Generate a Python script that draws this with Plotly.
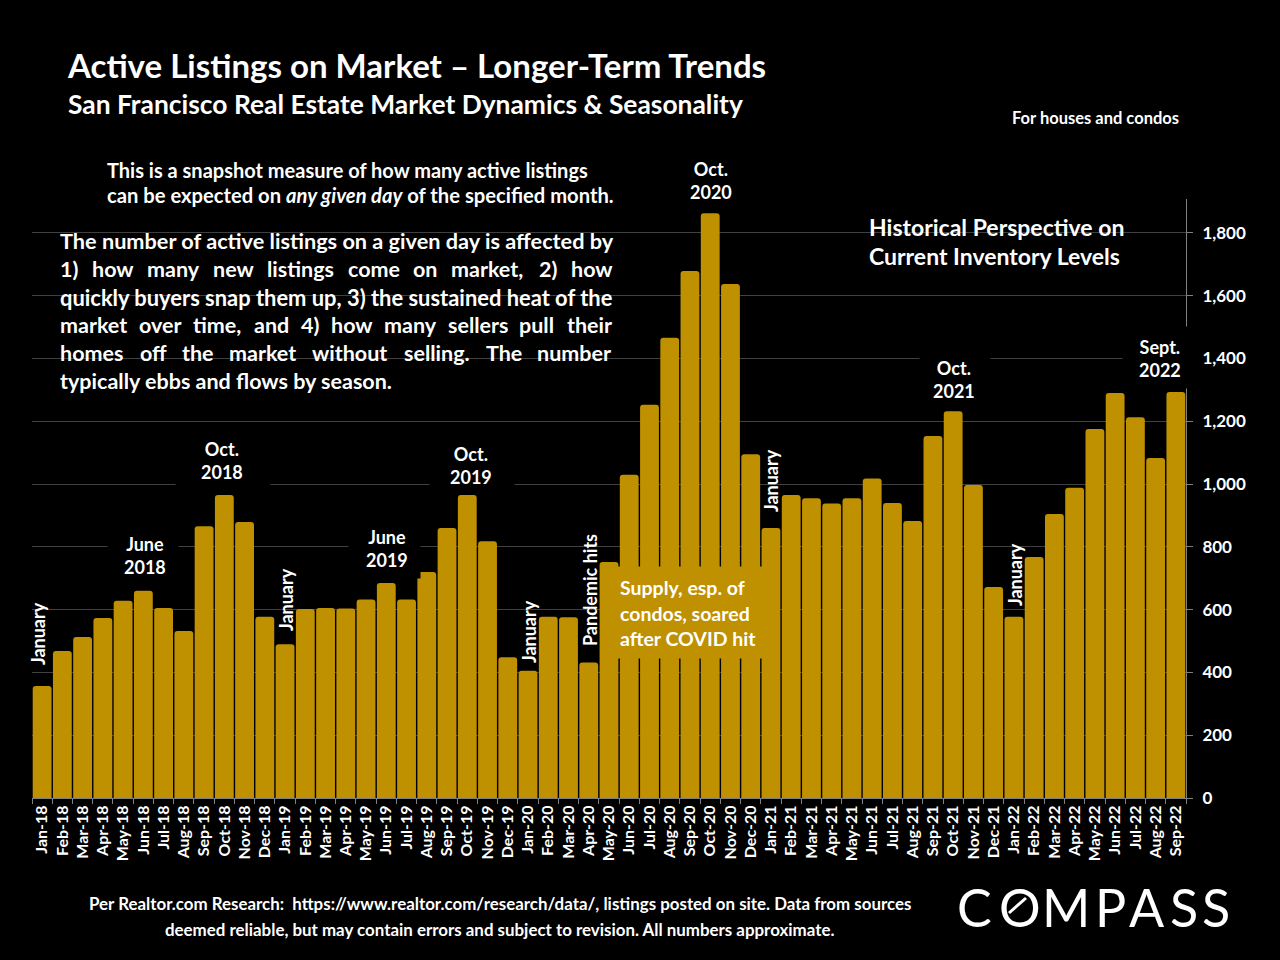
import plotly.graph_objects as go

months = ['Jan','Feb','Mar','Apr','May','Jun','Jul','Aug','Sep','Oct','Nov','Dec']
labels = [f'{m}-{y}' for y in (18, 19, 20, 21) for m in months] + [f'{m}-22' for m in months[:9]]

listings = [357, 468, 513, 573, 628, 660, 605, 532, 866, 965, 879, 577,
            490, 602, 605, 604, 632, 685, 632, 720, 860, 965, 818, 448,
            405, 577, 576, 432, 752, 1030, 1253, 1466, 1679, 1863, 1637, 1095,
            860, 965, 955, 938, 955, 1018, 940, 882, 1153, 1232, 997, 672,
            577, 768, 905, 988, 1175, 1290, 1213, 1083, 1293]

y_ticks = [0, 200, 400, 600, 800, 1000, 1200, 1400, 1600, 1800]

# justified paragraph: word and left edge, one list per line
para = [
    (241, 21.7, ['The number of active listings on a given day is affected by'], [60]),
    (269, 21.5, ['1)','how','many','new','listings','come','on','market,','2)','how'],
     [60, 92, 147, 213, 267, 348, 413, 451, 539, 571]),
    (297, 21.9, ['quickly buyers snap them up, 3) the sustained heat of the'], [60]),
    (325, 21.5, ['market','over','time,','and','4)','how','many','sellers','pull','their'],
     [60, 139, 193, 254, 301, 331, 384, 448, 519, 567]),
    (353, 21.5, ['homes','off','the','market','without','selling.','The','number'],
     [60, 140, 182, 229, 312, 404, 486, 537]),
    (381, 21.5, ['typically ebbs and flows by season.'], [60]),
]

GOLD = '#BF9000'
GRID = '#404040'
FONT = 'Lato'

# plot area in page pixels
L, R, T, B = 32, 1186, 199, 798
W, H = 1280, 960


def px(x, y):
    return (x - L) / (R - L), (B - y) / (B - T)


def text(s, x, y, size=18, xanchor='left', align='left', angle=0, weight=700, **kw):
    xp, yp = px(x, y)
    fig.add_annotation(text=s, x=xp, y=yp, xref='paper', yref='paper', showarrow=False,
                       xanchor=xanchor, yanchor='middle', align=align, textangle=angle,
                       borderpad=0, font=dict(family=FONT, size=size, color='white', weight=weight), **kw)


def box(s, x0, x1, y0, y1, cx, cy):
    # label with a black box behind it, hides gridlines and bar corners
    xp, yp = px((x0 + x1) / 2, (y0 + y1) / 2)
    fig.add_annotation(text=' ', x=xp, y=yp, xref='paper', yref='paper', showarrow=False,
                       width=x1 - x0, height=y1 - y0, bgcolor='black', borderpad=0,
                       xanchor='center', yanchor='middle')
    text(s, cx, cy, xanchor='center', align='center')


fig = go.Figure(go.Bar(x=labels, y=listings, marker=dict(color=GOLD, cornerradius=3, line_width=0), width=0.93))

fig.update_layout(
    width=W, height=H, paper_bgcolor='black', plot_bgcolor='black', showlegend=False,
    margin=dict(l=L, r=W - R, t=T, b=H - B),
    font=dict(family=FONT, color='white'),
    xaxis=dict(type='category', tickson='boundaries', ticks='outside', ticklen=5, tickcolor='#808080',
               showline=True, linecolor='#808080', showgrid=False, tickangle=-90,
               tickfont=dict(size=16, color='white', weight=700), dtick=1),
    yaxis=dict(side='right', range=[0, 1908], tickvals=y_ticks, tickformat=',', ticks='outside', ticklen=6,
               ticklabelstandoff=6, tickcolor='#808080', showline=True, linecolor='#808080', gridcolor=GRID,
               zeroline=False, tickfont=dict(size=17, color='white', weight=700)),
)

# masks over the gridlines behind the text blocks
for x0, x1, y0, y1 in [(48, 612, 225, 395), (856, 1143, 205, 275)]:
    a0, b0 = px(x0, y0)
    a1, b1 = px(x1, y1)
    fig.add_shape(type='rect', xref='paper', yref='paper', x0=a0, x1=a1, y0=b0, y1=b1,
                  fillcolor='black', line_width=0, layer='between')

text('Active Listings on Market – Longer-Term Trends', 66, 65, size=33)
text('San Francisco Real Estate Market Dynamics &amp; Seasonality', 67, 104, size=26.4)
text('For houses and condos', 1011, 118, size=16.5)

text('This is a snapshot measure of how many active listings', 106, 170, size=20)
text('can be expected on <i>any given day</i> of the specified month.', 106, 195, size=20.2)

for y, size, words, xs in para:
    for w, x in zip(words, xs):
        text(w, x - 1.5, y, size=size)

text('Historical Perspective on', 868, 227, size=23)
text('Current Inventory Levels', 868, 256, size=23)

box('June<br>2018', 108, 178, 530, 580, 145, 555)
box('Oct.<br>2018', 176, 270, 435, 487, 222, 460)
box('June<br>2019', 349, 420, 525, 578, 387, 548)
box('Oct.<br>2019', 430, 514, 440, 487, 471, 465)
box('Oct.<br>2021', 920, 990, 350, 405, 954, 379)
box('Sept.<br>2022', 1123, 1195, 327, 388, 1160, 358)
text('Oct.<br>2020', 711, 181, xanchor='center', align='center')

for s, x, y in [('January', 38, 634), ('January', 286, 600), ('January', 529, 632),
                ('Pandemic hits', 590, 590), ('January', 771, 481), ('January', 1015, 575)]:
    text(s, x, y, size=18, xanchor='center', angle=-90)

# callout over the bars
xp, yp = px(690, 612.5)
fig.add_annotation(text=' ', x=xp, y=yp, xref='paper', yref='paper', showarrow=False, width=144, height=91,
                   bgcolor=GOLD, borderpad=0, xanchor='center', yanchor='middle')
text('Supply, esp. of', 619, 587, size=19.5)
text('condos, soared', 619, 613, size=19.5)
text('after COVID hit', 619, 638, size=19.5)

text('Per Realtor.com Research:  https://www.realtor.com/research/data/, listings posted on site. Data from sources',
     500, 903, size=16.9, xanchor='center')
text('deemed reliable, but may contain errors and subject to revision. All numbers approximate.',
     499, 929, size=16.9, xanchor='center')

# logo
for ch, x in zip('COMPASS', [974, 1020, 1066, 1110, 1147, 1184, 1216]):
    text(ch, x, 907, size=52, xanchor='center', weight=400)
a0, b0 = px(1009, 913)
a1, b1 = px(1026, 898)
fig.add_shape(type='line', xref='paper', yref='paper', x0=a0, x1=a1, y0=b0, y1=b1,
              line=dict(color='white', width=3), layer='above')

fig.write_html("out.html", config={'displayModeBar': False},
               post_script="document.body.style.margin='0';document.body.style.background='black';")
